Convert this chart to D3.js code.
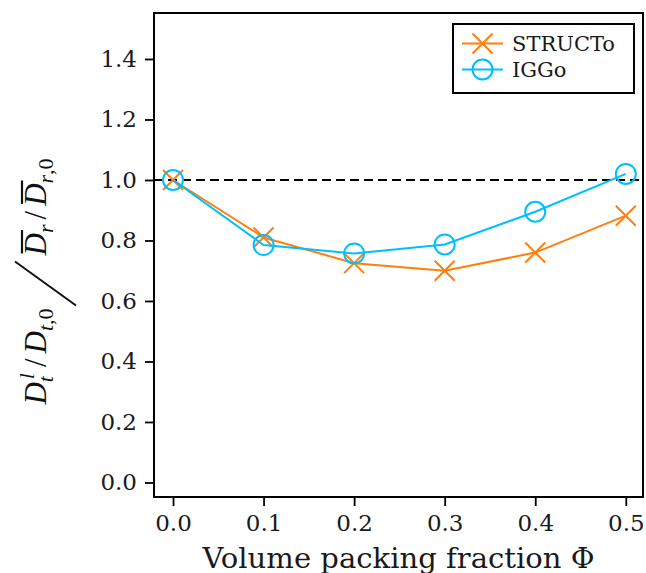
<!DOCTYPE html>
<html><head><meta charset="utf-8">
<script src="https://cdn.jsdelivr.net/npm/d3@7"></script>
<style>body{margin:0;background:#fff}svg{display:block}</style>
</head><body>
<svg id="c" width="646" height="573"></svg>
<script>
const phi = [0.0, 0.1, 0.2, 0.3, 0.4, 0.5];
const structo = [1.0, 0.81, 0.725, 0.70, 0.76, 0.882];
const iggo = [1.0, 0.785, 0.757, 0.787, 0.895, 1.02];
const xTicks = [0.0, 0.1, 0.2, 0.3, 0.4, 0.5];
const yTicks = [0.0, 0.2, 0.4, 0.6, 0.8, 1.0, 1.2, 1.4];
const seriesNames = ["STRUCTo", "IGGo"];
const colors = ["#ff7f0e", "#00bfff"];

const svg = d3.select("#c");
const L = 154, R = 643, T = 13, B = 497;
const x = d3.scaleLinear().domain([-0.021, 0.519]).range([L, R]);
const y = d3.scaleLinear().domain([-0.048, 1.552]).range([B, T]);
const tickFont = "DejaVu Serif";

// reference dashed line
svg.append("line").attr("x1", L).attr("x2", R).attr("y1", y(1)).attr("y2", y(1))
  .attr("stroke", "#000").attr("stroke-width", 2.2).attr("stroke-dasharray", "9,5");

const line = d3.line().x((d, i) => x(phi[i])).y(d => y(d));
const crossPath = s => `M${-s},${-s}L${s},${s}M${-s},${s}L${s},${-s}`;

// STRUCTo
svg.append("path").datum(structo).attr("d", line).attr("fill", "none")
  .attr("stroke", colors[0]).attr("stroke-width", 2);
svg.append("g").selectAll("path").data(structo).join("path")
  .attr("transform", (d, i) => `translate(${x(phi[i])},${y(d)})`)
  .attr("d", crossPath(10)).attr("stroke", colors[0]).attr("stroke-width", 2).attr("fill", "none");
// IGGo
svg.append("path").datum(iggo).attr("d", line).attr("fill", "none")
  .attr("stroke", colors[1]).attr("stroke-width", 2);
svg.append("g").selectAll("circle").data(iggo).join("circle")
  .attr("cx", (d, i) => x(phi[i])).attr("cy", d => y(d)).attr("r", 10)
  .attr("fill", "none").attr("stroke", colors[1]).attr("stroke-width", 2);

// axes
const xAxis = svg.append("g").attr("transform", `translate(0,${B})`)
  .call(d3.axisBottom(x).tickValues(xTicks).tickFormat(d3.format(".1f")).tickSizeOuter(0).tickSize(9).tickPadding(9));
const yAxis = svg.append("g").attr("transform", `translate(${L},0)`)
  .call(d3.axisLeft(y).tickValues(yTicks).tickFormat(d3.format(".1f")).tickSizeOuter(0).tickSize(9).tickPadding(8));
[xAxis, yAxis].forEach(a => {
  a.select(".domain").remove();
  a.selectAll(".tick line").attr("stroke", "#000").attr("stroke-width", 1.8);
  a.selectAll(".tick text").attr("font-family", tickFont).attr("font-size", 23).attr("fill", "#1a1a1a");
});
svg.append("rect").attr("x", L).attr("y", T).attr("width", R - L).attr("height", B - T)
  .attr("fill", "none").attr("stroke", "#000").attr("stroke-width", 2);

// x label
svg.append("text").attr("x", (L + R) / 2).attr("y", 568).attr("text-anchor", "middle")
  .attr("font-family", tickFont).attr("font-size", 27).attr("fill", "#1a1a1a")
  .attr("textLength", 392).attr("lengthAdjust", "spacingAndGlyphs")
  .text("Volume packing fraction Φ");

// y label (math), laid out sequentially
const mf = "Liberation Serif";
const FS = 31, SS = 22;
const g = svg.append("g").attr("transform", "translate(46,281.5) rotate(-90)");
let cx = 0;
function put(txt, opts) {
  const t = g.append("text").attr("x", cx + (opts.dx || 0)).attr("y", opts.y || 0)
    .attr("font-family", mf).attr("font-size", opts.size || FS)
    .attr("font-style", opts.italic ? "italic" : "normal").attr("fill", "#111").text(txt);
  return t.node().getComputedTextLength() + (opts.dx || 0);
}
// D^l_t
let w = put("D", {italic: true}); cx += w;
let w1 = put("l", {italic: true, size: SS, y: -12, dx: 3});
let w2 = put("t", {italic: true, size: SS, y: 7, dx: 0});
cx += Math.max(w1, w2) + 2;
cx += put("/", {dx: 4}) + 5;
cx += put("D", {italic: true});
cx += put("t", {italic: true, size: SS, y: 7});
cx += put(",0", {size: SS, y: 7}) + 3;
// big slash
g.append("line").attr("x1", cx).attr("y1", 30).attr("x2", cx + 44).attr("y2", -31)
  .attr("stroke", "#111").attr("stroke-width", 2);
cx += 50;
let o1 = cx;
w = put("D", {italic: true});
g.append("line").attr("x1", o1 + 2).attr("x2", o1 + w + 3).attr("y1", -24).attr("y2", -24)
  .attr("stroke", "#111").attr("stroke-width", 2.2);
cx += w;
cx += put("r", {italic: true, size: SS, y: 7}) + 1;
cx += put("/", {dx: 4}) + 5;
o1 = cx;
w = put("D", {italic: true});
g.append("line").attr("x1", o1 + 2).attr("x2", o1 + w + 3).attr("y1", -24).attr("y2", -24)
  .attr("stroke", "#111").attr("stroke-width", 2.2);
cx += w;
cx += put("r", {italic: true, size: SS, y: 7});
cx += put(",0", {size: SS, y: 7});
// center the group content
g.selectAll("*").each(function() {
  const el = d3.select(this);
  if (this.tagName === "text") el.attr("x", +el.attr("x") - cx / 2);
  else el.attr("x1", +el.attr("x1") - cx / 2).attr("x2", +el.attr("x2") - cx / 2);
});

// legend
const lg = svg.append("g");
lg.append("rect").attr("x", 453).attr("y", 24).attr("width", 181).attr("height", 69)
  .attr("fill", "#fff").attr("stroke", "#000").attr("stroke-width", 2);
const rows = [43.5, 69.5];
seriesNames.forEach((n, i) => {
  lg.append("line").attr("x1", 462).attr("x2", 503).attr("y1", rows[i]).attr("y2", rows[i])
    .attr("stroke", colors[i]).attr("stroke-width", 2);
  if (i === 0) lg.append("path").attr("transform", `translate(482.5,${rows[i]})`).attr("d", crossPath(10))
    .attr("stroke", colors[i]).attr("stroke-width", 2);
  else lg.append("circle").attr("cx", 482.5).attr("cy", rows[i]).attr("r", 10)
    .attr("fill", "none").attr("stroke", colors[i]).attr("stroke-width", 2);
  lg.append("text").attr("x", 512).attr("y", rows[i] + 7.5).attr("font-family", tickFont)
    .attr("font-size", 21).attr("fill", "#1a1a1a").text(n);
});
</script>
</body></html>
